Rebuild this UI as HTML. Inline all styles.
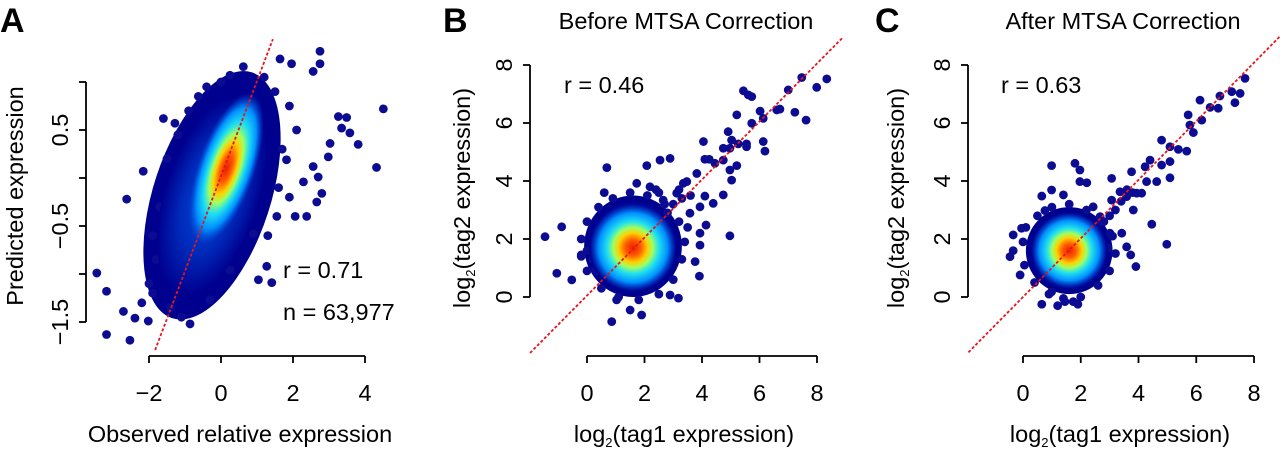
<!DOCTYPE html>
<html><head><meta charset="utf-8"><style>
html,body{margin:0;padding:0;background:#fff;}
svg{display:block;font-family:"Liberation Sans",Arial,sans-serif;}
</style></head><body>
<svg id="fig" width="1280" height="453" viewBox="0 0 1280 453">
<defs>
<radialGradient id="gOuter" cx="0.5" cy="0.5" r="0.5">
<stop offset="0" stop-color="#0050e0"/><stop offset="0.6" stop-color="#0028b8"/><stop offset="1" stop-color="#00008f"/>
</radialGradient>
<radialGradient id="gHot" cx="0.5" cy="0.5" r="0.5">
<stop offset="0" stop-color="#e82000"/><stop offset="0.18" stop-color="#ff5a00"/><stop offset="0.34" stop-color="#ffd000"/>
<stop offset="0.46" stop-color="#a0ff60"/><stop offset="0.6" stop-color="#20e0f0"/><stop offset="0.8" stop-color="#0090ff"/>
<stop offset="1" stop-color="#0050e0" stop-opacity="0"/>
</radialGradient>
</defs>
<g id="pA"></g>
<g id="pB"></g>
<g id="pC"></g>
</svg>
<script>
// ---- Panel A data ----
const aPtsX = [2.75,2.75,1.64,1.96,2.56,4.51,4.32,3.81,3.58,3.35,3.49,3.26,3.03,2.98,2.80,2.66,2.38,2.06,1.27,1.04,1.41,-3.18,-2.53,-3.45,-3.18,-2.71,-2.39,-2.02,-0.86,-2.62,-2.16,-1.60,-1.28,-0.63,0.62,0.25,2.29,2.56,2.70,1.82,1.55,0.90,0.25,-0.31,1.2,1.5,1.9,2.1,1.7,-1.9,-1.7,-1.4,-1.1,-2.0,-1.8,-0.4,0.0,-1.5,-1.2,-0.9,1.6,1.9,1.3,-2.2,-1.9];
const aPtsY = [1.32,1.19,1.24,1.19,1.11,0.72,0.11,0.35,0.47,0.52,0.63,0.64,0.36,0.22,-0.16,-0.25,-0.40,-0.40,-0.92,-1.06,-1.09,-1.63,-1.69,-0.99,-1.18,-1.39,-1.46,-1.49,-1.52,-0.22,0.07,0.62,0.57,0.85,1.16,1.07,-0.04,0.12,0.01,0.19,-0.40,-0.58,-0.96,-1.27,1.05,0.9,0.75,0.5,0.3,-0.6,-0.3,-1.35,-1.45,-1.1,-0.85,0.95,1.0,0.2,0.45,0.7,-0.1,-0.2,-0.6,-1.3,-1.2];
const aCloud = [-0.25,-0.18, 1.11,1.28, 1.55,-0.19]; // center x,y; major vec; minor vec (data units)
const aHot = [0.15,0.10, 0.72,0.78, 0.75,-0.10];
const aFit = [0.02,0.99]; const aFitRange=[-1.83,1.44];
const aXTicks=[-2,0,2,4]; const aYTicks=[-1.5,-1,-0.5,0,0.5,1]; const aYLabels=[-1.5,-0.5,0.5];
// ---- Panel B data ----
const bPtsX = [8.34,7.99,7.47,7.00,7.23,7.62,6.71,6.60,6.02,6.13,5.44,5.61,5.73,5.21,5.73,5.55,5.55,5.26,6.13,6.19,4.91,5.03,4.97,4.74,4.74,4.97,5.21,5.03,4.74,4.97,4.05,4.10,4.25,4.45,3.82,3.47,2.89,2.54,2.08,0.69,4.10,4.39,3.93,3.58,4.14,3.93,3.93,3.76,3.91,3.18,2.89,1.90,0.86,-1.05,-1.46,-0.88,-0.53,1.03,1.50,3.35,3.12,2.65,2.19,1.73,3.0,3.3,3.6,2.8,0.0,0.2,-0.2,0.3,2.5,3.2,
 -0.2,0.0,0.4,0.9,1.5,2.1,2.7,3.2,3.4,3.3,3.0,2.5,1.8,1.1,0.5,0.0,-0.2,3.5,2.4,0.6];
const bPtsY = [7.52,7.23,7.57,7.14,6.37,6.10,6.48,6.45,6.41,6.16,7.11,6.97,6.91,6.28,5.99,5.28,5.18,5.28,5.36,5.03,5.70,5.41,5.13,4.72,5.13,4.38,4.53,4.03,3.52,2.11,5.36,4.75,4.75,4.61,4.26,3.98,4.78,4.72,4.53,4.46,3.48,3.23,3.11,2.89,2.48,2.20,1.79,1.22,0.72,-0.04,0.07,-0.62,-0.85,0.82,2.08,2.42,0.59,-0.10,-0.45,3.92,3.58,3.34,3.80,3.92,3.2,3.4,3.5,2.9,1.6,1.3,1.45,0.9,3.6,3.7,
 2.0,2.6,3.1,3.4,3.6,3.5,3.2,2.6,1.9,1.3,0.6,0.1,-0.1,0.0,0.3,0.9,1.4,2.4,3.7,3.6];
const bCloud = [1.6,1.75, 1.7,0, 0,1.75];
const bHot = [1.6,1.7, 1.5,0, 0,1.5];
const bFit = [0.05,1.0]; const bFitRange=[-1.98,8.9];
// ---- Panel C data ----
const cPtsX = [7.69,7.52,7.34,7.23,6.82,6.76,6.48,6.13,6.19,5.72,5.78,5.90,5.67,5.38,5.09,4.80,5.09,5.09,4.80,4.63,4.40,4.23,4.28,4.46,4.98,3.91,3.73,3.59,3.42,3.82,3.94,3.76,3.07,2.21,1.97,1.80,1.97,0.99,0.99,0.65,0.76,1.40,-0.34,-0.05,-0.45,-0.34,-0.10,0.65,1.45,1.74,0.99,2.32,2.67,2.95,3.01,2.67,2.43,3.07,3.36,3.59,4.11,3.2,3.4,3.6,3.0,2.8,3.8,
 0.0,0.1,0.5,1.0,1.6,2.2,2.7,3.1,3.2,3.0,2.6,2.0,1.4,0.9,0.4,0.05,1.2,1.9];
const cPtsY = [7.54,7.02,6.70,7.08,6.93,6.51,6.54,6.79,6.10,6.28,5.93,5.67,5.03,5.09,5.18,5.41,4.67,4.11,4.55,3.98,4.72,4.49,3.98,2.51,1.82,1.05,1.45,1.73,2.20,3.00,3.58,4.32,4.09,3.94,3.98,4.61,4.38,4.53,3.69,3.48,2.98,3.52,2.14,2.37,1.39,1.60,0.76,-0.25,-0.16,-0.16,0.18,0.64,1.22,1.68,2.20,2.77,3.11,3.34,3.63,3.46,3.58,3.0,3.3,3.7,2.8,2.6,3.6,
 1.9,2.4,2.8,3.1,3.2,3.0,2.6,2.1,1.5,0.9,0.4,0.0,-0.05,0.1,0.5,1.1,-0.3,-0.25];
const cCloud = [1.6,1.6, 1.5,0, 0,1.5];
const cHot = [1.6,1.6, 1.3,0, 0,1.3];
const cFit = [0.0,1.01]; const cFitRange=[-1.89,8.9];
const bcTicks=[0,2,4,6,8];

const NS="http://www.w3.org/2000/svg";
function mk(parent,tag,attrs,text){const e=document.createElementNS(NS,tag);for(const k in attrs)e.setAttribute(k,attrs[k]);if(text!==undefined)e.textContent=text;parent.appendChild(e);return e;}

function panel(g,cfg){
  const sx=v=>cfg.x0+cfg.kx*v, sy=v=>cfg.y0-cfg.ky*v;
  {const c=cfg.cloud;const cx=sx(c[0]), cy=sy(c[1]);
    const e=mk(g,'circle',{cx:0,cy:0,r:1,fill:'#00008f',transform:`matrix(${c[2]*cfg.kx} ${-c[3]*cfg.ky} ${c[4]*cfg.kx} ${-c[5]*cfg.ky} ${cx} ${cy})`});
    
    }
  for(let i=0;i<cfg.px.length;i++){
    const p=mk(g,'circle',{cx:sx(cfg.px[i]),cy:sy(cfg.py[i]),r:4.4,fill:'#0c0c92'});
    
    
  }
  [[cfg.cloud,'url(#gOuter)','density-cloud-inner',cfg.inS],[cfg.hot,'url(#gHot)','density-core',1]].forEach(([c,f,nm,s])=>{
    const cx=sx(c[0]), cy=sy(c[1]);
    const a=c[2]*cfg.kx*s, b=-c[3]*cfg.ky*s, cc=c[4]*cfg.kx*s, d=-c[5]*cfg.ky*s;
    const e=mk(g,'circle',{cx:0,cy:0,r:1,fill:f,transform:`matrix(${a} ${b} ${cc} ${d} ${cx} ${cy})`});
    
    
  });
  const l=mk(g,'line',{x1:sx(cfg.fr[0]),y1:sy(cfg.fit[0]+cfg.fit[1]*cfg.fr[0]),x2:sx(cfg.fr[1]),y2:sy(cfg.fit[0]+cfg.fit[1]*cfg.fr[1]),stroke:'#e8141c','stroke-width':1.8,'stroke-dasharray':'3,2'});
  
  
  const xa=mk(g,'g',{});
  
  
  const xt=cfg.xt;
  mk(xa,'line',{x1:sx(xt[0]),x2:sx(xt[xt.length-1]),y1:cfg.xay,y2:cfg.xay,stroke:'#000','stroke-width':1.8});
  xt.forEach(v=>{mk(xa,'line',{x1:sx(v),x2:sx(v),y1:cfg.xay,y2:cfg.xay+7,stroke:'#000','stroke-width':1.8});
    const t=mk(xa,'text',{x:sx(v),y:cfg.xay+45,'text-anchor':'middle','font-size':23.5},v<0?'\u2212'+(-v):String(v));
    
    });
  const ya=mk(g,'g',{});
  
  
  const yt=cfg.yt;
  mk(ya,'line',{x1:cfg.yax,x2:cfg.yax,y1:sy(yt[0]),y2:sy(yt[yt.length-1]),stroke:'#000','stroke-width':1.8});
  yt.forEach(v=>mk(ya,'line',{x1:cfg.yax-7,x2:cfg.yax,y1:sy(v),y2:sy(v),stroke:'#000','stroke-width':1.8}));
  cfg.yl.forEach(v=>{const X=cfg.yax-18,Y=sy(v);
    const t=mk(ya,'text',{x:X,y:Y,'text-anchor':'middle','font-size':23.5,transform:`rotate(-90 ${X} ${Y})`},v<0?'\u2212'+(-v):String(v));
    
    });
}

const A=document.getElementById('pA'),B=document.getElementById('pB'),C=document.getElementById('pC');
panel(A,{x0:221,kx:36,y0:178,ky:96,cloud:aCloud,hot:aHot,inS:0.8,px:aPtsX,py:aPtsY,fit:aFit,fr:aFitRange,xt:aXTicks,yt:aYTicks,yl:aYLabels,xay:356,yax:86});
panel(B,{x0:587,kx:28.75,y0:297,ky:29,cloud:bCloud,hot:bHot,inS:0.9,px:bPtsX,py:bPtsY,fit:bFit,fr:bFitRange,xt:bcTicks,yt:bcTicks,yl:bcTicks,xay:356,yax:530});
panel(C,{x0:1023,kx:28.875,y0:297,ky:29,cloud:cCloud,hot:cHot,inS:0.9,px:cPtsX,py:cPtsY,fit:cFit,fr:cFitRange,xt:bcTicks,yt:bcTicks,yl:bcTicks,xay:356,yax:968});
</script>
<script>
(function(){
const s=document.getElementById('fig');
s.insertAdjacentHTML('beforeend',`
<text x="0" y="32" font-size="34" font-weight="bold">A</text>
<text x="443" y="32" font-size="34" font-weight="bold">B</text>
<text x="875" y="32" font-size="34" font-weight="bold">C</text>
<text x="686" y="29" font-size="23.5" text-anchor="middle">Before MTSA Correction</text>
<text x="1123" y="29" font-size="23.5" text-anchor="middle">After MTSA Correction</text>
<text x="283" y="278" font-size="23.5">r = 0.71</text>
<text x="283" y="320" font-size="23.5">n = 63,977</text>
<text x="564" y="93" font-size="23.5">r = 0.46</text>
<text x="1001" y="93" font-size="23.5">r = 0.63</text>
<text x="240" y="442" font-size="23.5" text-anchor="middle">Observed relative expression</text>
<text x="23" y="196" font-size="23.5" text-anchor="middle" transform="rotate(-90 23 196)">Predicted expression</text>
<text x="684" y="442" font-size="23.5" text-anchor="middle">log<tspan font-size="13" dy="5">2</tspan><tspan dy="-5">(tag1 expression)</tspan></text>
<text x="470" y="198" font-size="23.5" text-anchor="middle" transform="rotate(-90 470 198)">log<tspan font-size="13" dy="5">2</tspan><tspan dy="-5">(tag2 expression)</tspan></text>
<text x="1120" y="442" font-size="23.5" text-anchor="middle">log<tspan font-size="13" dy="5">2</tspan><tspan dy="-5">(tag1 expression)</tspan></text>
<text x="904" y="198" font-size="23.5" text-anchor="middle" transform="rotate(-90 904 198)">log<tspan font-size="13" dy="5">2</tspan><tspan dy="-5">(tag2 expression)</tspan></text>
`);
})();
</script>
</body></html>
